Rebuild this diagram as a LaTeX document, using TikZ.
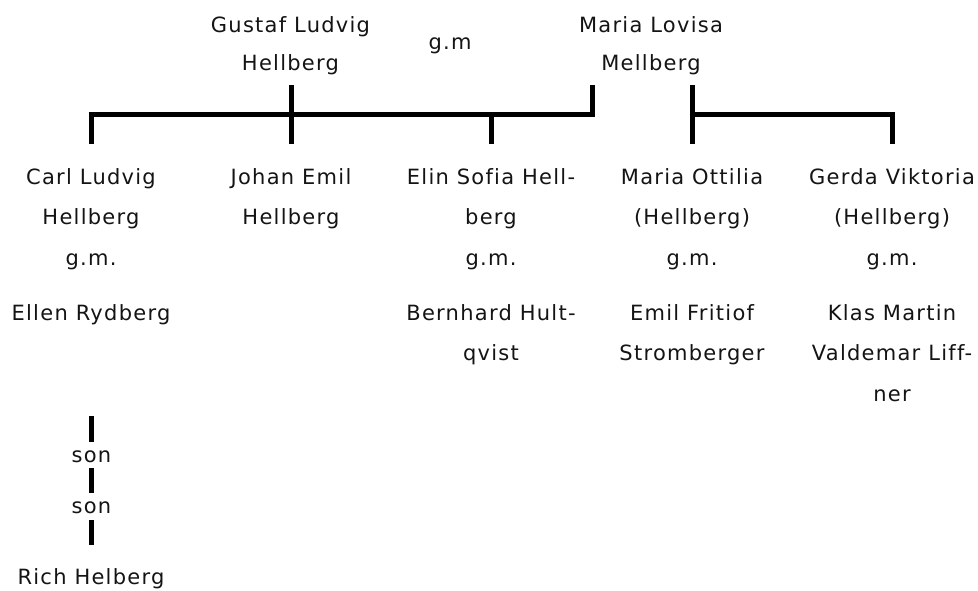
\documentclass[tikz,border=0pt]{standalone}
\usepackage{fontspec}
\setmainfont{DejaVu Sans}[LetterSpace=6,Ligatures={NoCommon}]
\definecolor{txt}{HTML}{141414}
\newcommand{\fl}{\rule{0pt}{16pt}}
\begin{document}
\begin{tikzpicture}[x=1pt,y=-1pt,
  every node/.style={text=txt, inner sep=0pt},
  blk/.style={align=center, anchor=north, font=\fontsize{21}{40.5}\selectfont},
  toplbl/.style={align=center, anchor=north, font=\fontsize{21}{38}\selectfont},
  single/.style={anchor=base, font=\fontsize{21}{24}\selectfont},
  link/.style={line width=5pt, line join=miter, draw=black}]
\useasboundingbox (0,0) rectangle (978,590);
% parents
\node[toplbl] (gustaf) at (290.5,16.7) {\fl Gustaf Ludvig\\Hellberg};
\node[toplbl] (maria) at (651,16.7) {\fl Maria Lovisa\\Mellberg};
\node[single] (gm) at (450,49.8) {g.m};
% children
\node[blk] (carl) at (91,168.2) {\fl Carl Ludvig\\Hellberg\\g.m.};
\node[blk] (ellen) at (91,304.2) {\fl Ellen Rydberg};
\node[blk] (johan) at (291,168.2) {\fl Johan Emil\\Hellberg};
\node[blk] (elin) at (491,168.2) {\fl Elin Sofia Hell-\\berg\\g.m.};
\node[blk] (bernhard) at (491,304.2) {\fl Bernhard Hult-\\qvist};
\node[blk] (ottilia) at (692,168.2) {\fl Maria Ottilia\\(Hellberg)\\g.m.};
\node[blk] (emil) at (692,304.2) {\fl Emil Fritiof\\Stromberger};
\node[blk] (gerda) at (892,168.2) {\fl Gerda Viktoria\\(Hellberg)\\g.m.};
\node[blk] (klas) at (892,304.2) {\fl Klas Martin\\Valdemar Liff-\\ner};
% descendants
\node[single] (son1) at (91.5,462.8) {son};
\node[single] (son2) at (91.5,513.8) {son};
\node[single] (rich) at (91,584.7) {Rich Helberg};
% junction coordinates
\coordinate (bar) at (0,114.5);
\coordinate (gdrop) at (291.5,85);
\coordinate (mdropL) at (592.5,85);
\coordinate (mdropR) at (692.5,85);
\coordinate (carlup) at (91.5,144);
\coordinate (johanup) at (291.5,144);
\coordinate (elinup) at (491.5,144);
\coordinate (ottiliaup) at (692.5,144);
\coordinate (gerdaup) at (892.5,144);
\coordinate (s1a) at (91.5,416);
\coordinate (s1b) at (91.5,442);
\coordinate (s2a) at (91.5,468);
\coordinate (s2b) at (91.5,493);
\coordinate (s3a) at (91.5,520);
\coordinate (s3b) at (91.5,545);
% connectors
\draw[link] (carlup) |- (mdropL |- bar) -- (mdropL);
\draw[link] (gdrop) -- (johanup);
\draw[link] (elinup) -- (elinup |- bar);
\draw[link] (mdropR) -- (ottiliaup);
\draw[link] (mdropR |- bar) -| (gerdaup);
\draw[link] (s1a) -- (s1b);
\draw[link] (s2a) -- (s2b);
\draw[link] (s3a) -- (s3b);
\end{tikzpicture}
\end{document}
